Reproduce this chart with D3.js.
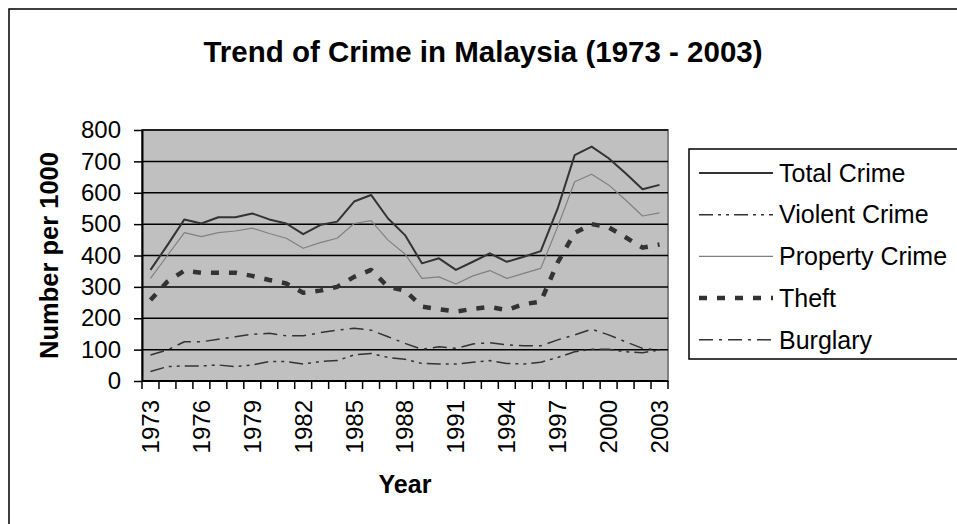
<!DOCTYPE html>
<html>
<head>
<meta charset="utf-8">
<script src="https://cdn.jsdelivr.net/npm/d3@7"></script>
<style>
  body { margin: 0; background: #fff; }
  svg { display: block; font-family: "Liberation Sans", Arial, sans-serif; }
</style>
</head>
<body>
<svg width="957" height="524"></svg>
<script>
// data
var years = d3.range(1973, 2004);
var yearLabels = ["1973","1976","1979","1982","1985","1988","1991","1994","1997","2000","2003"];
var yTicks = [0, 100, 200, 300, 400, 500, 600, 700, 800];

var totalCrime = [354, 433, 515, 502, 522, 522, 534, 515, 502, 468, 497, 508, 572, 593, 518, 465,
                  375, 391, 354, 380, 407, 380, 396, 414, 550, 720, 747, 710, 662, 611, 625];
var violentCrime = [30, 46, 48, 48, 51, 46, 51, 62, 62, 54, 62, 65, 83, 88, 75, 69,
                    56, 54, 54, 60, 65, 56, 54, 60, 75, 93, 101, 101, 93, 90, 99];
var propertyCrime = [327, 400, 473, 460, 473, 478, 487, 470, 455, 423, 441, 455, 502, 511, 449, 405,
                     327, 332, 309, 335, 352, 327, 343, 359, 492, 635, 659, 625, 577, 526, 536];
var theft = [258, 317, 352, 345, 345, 345, 335, 322, 311, 281, 288, 300, 332, 354, 300, 288,
             237, 229, 221, 230, 236, 226, 245, 253, 378, 472, 500, 490, 458, 425, 435];
var burglary = [83, 99, 125, 125, 133, 141, 149, 152, 144, 144, 154, 162, 168, 162, 141, 120,
                101, 109, 104, 118, 122, 115, 112, 112, 131, 147, 165, 147, 125, 104, 99];

var seriesNames = ["Total Crime", "Violent Crime", "Property Crime", "Theft", "Burglary"];
var seriesValues = [totalCrime, violentCrime, propertyCrime, theft, burglary];
var seriesStyle = [
  {stroke: "#333", width: 2, dash: null},
  {stroke: "#333", width: 1.5, dash: "14,5,3,5,3,5"},
  {stroke: "#808080", width: 1.2, dash: null},
  {stroke: "#333", width: 4.5, dash: "8,10"},
  {stroke: "#333", width: 1.5, dash: "14,6,3,6"}
];

var svg = d3.select("svg");

var plot = {left: 142, right: 668, top: 130, bottom: 381};

var x = d3.scaleBand()
    .domain(years)
    .range([plot.left, plot.right])
    .padding(0);

var y = d3.scaleLinear()
    .domain([0, 800])
    .range([plot.bottom, plot.top]);

// chart area border
svg.append("rect")
    .attr("x", 9).attr("y", 9)
    .attr("width", 1100).attr("height", 700)
    .attr("fill", "none")
    .attr("stroke", "#000")
    .attr("stroke-width", 1.5);

// title
svg.append("text")
    .attr("x", 483)
    .attr("y", 62)
    .attr("text-anchor", "middle")
    .attr("font-size", 29.5)
    .attr("font-weight", "bold")
    .text("Trend of Crime in Malaysia (1973 - 2003)");

// plot background
svg.append("rect")
    .attr("x", plot.left).attr("y", plot.top)
    .attr("width", plot.right - plot.left)
    .attr("height", plot.bottom - plot.top)
    .attr("fill", "#c0c0c0")
    .attr("stroke", "#808080")
    .attr("stroke-width", 2);

// gridlines
svg.append("g")
    .selectAll("line")
    .data(yTicks.filter(function(d) { return d > 0; }))
    .enter().append("line")
    .attr("x1", plot.left).attr("x2", plot.right)
    .attr("y1", function(d) { return y(d); })
    .attr("y2", function(d) { return y(d); })
    .attr("stroke", "#000")
    .attr("stroke-width", 1.5);

// y axis
var yAxis = svg.append("g")
    .attr("transform", "translate(" + plot.left + ",0)")
    .call(d3.axisLeft(y).tickValues(yTicks).tickSize(8).tickPadding(13).tickSizeOuter(0));
yAxis.select(".domain").attr("stroke", "#000").attr("stroke-width", 2);
yAxis.selectAll(".tick line").attr("stroke", "#000").attr("stroke-width", 1.5);
yAxis.selectAll("text")
    .attr("font-size", 24)
    .attr("fill", "#000")
    .attr("font-family", "Liberation Sans, Arial, sans-serif");

// x axis: ticks at category boundaries
var xAxisG = svg.append("g");
xAxisG.append("line")
    .attr("x1", plot.left).attr("x2", plot.right)
    .attr("y1", plot.bottom).attr("y2", plot.bottom)
    .attr("stroke", "#000").attr("stroke-width", 2);
var bounds = years.map(function(d) { return x(d); }).concat([x(years[years.length - 1]) + x.bandwidth()]);
xAxisG.selectAll("line.tk")
    .data(bounds)
    .enter().append("line")
    .attr("class", "tk")
    .attr("x1", function(d) { return d; }).attr("x2", function(d) { return d; })
    .attr("y1", plot.bottom).attr("y2", plot.bottom + 8)
    .attr("stroke", "#000").attr("stroke-width", 1.5);
xAxisG.selectAll("text")
    .data(yearLabels)
    .enter().append("text")
    .attr("transform", function(d) {
        return "translate(" + (x(+d) + x.bandwidth() / 2) + "," + (plot.bottom + 19) + ") rotate(-90)";
    })
    .attr("text-anchor", "end")
    .attr("dy", "0.35em")
    .attr("font-size", 24)
    .text(function(d) { return d; });

// axis titles
svg.append("text")
    .attr("x", (plot.left + plot.right) / 2)
    .attr("y", 493)
    .attr("text-anchor", "middle")
    .attr("font-size", 25)
    .attr("font-weight", "bold")
    .text("Year");

svg.append("text")
    .attr("transform", "translate(58," + ((plot.top + plot.bottom) / 2) + ") rotate(-90)")
    .attr("text-anchor", "middle")
    .attr("font-size", 25.5)
    .attr("font-weight", "bold")
    .text("Number per 1000");

// lines
var line = d3.line()
    .x(function(d, i) { return x(years[i]) + x.bandwidth() / 2; })
    .y(function(d) { return y(d); });

svg.append("g")
    .selectAll("path")
    .data(seriesValues)
    .enter().append("path")
    .attr("d", line)
    .attr("fill", "none")
    .attr("stroke", function(d, i) { return seriesStyle[i].stroke; })
    .attr("stroke-width", function(d, i) { return seriesStyle[i].width; })
    .attr("stroke-dasharray", function(d, i) { return seriesStyle[i].dash; })
    .attr("stroke-linejoin", "round");

// legend
var lg = svg.append("g");
lg.append("rect")
    .attr("x", 689).attr("y", 149)
    .attr("width", 400).attr("height", 210)
    .attr("fill", "#fff")
    .attr("stroke", "#000")
    .attr("stroke-width", 1.5);

var items = lg.selectAll("g.item")
    .data(seriesNames)
    .enter().append("g")
    .attr("class", "item")
    .attr("transform", function(d, i) { return "translate(0," + (173 + i * 41.7) + ")"; });
items.append("line")
    .attr("x1", 699).attr("x2", 773)
    .attr("y1", 0).attr("y2", 0)
    .attr("stroke", function(d, i) { return seriesStyle[i].stroke; })
    .attr("stroke-width", function(d, i) { return seriesStyle[i].width; })
    .attr("stroke-dasharray", function(d, i) { return seriesStyle[i].dash; });
items.append("text")
    .attr("x", 779)
    .attr("dy", "0.35em")
    .attr("font-size", 25)
    .text(function(d) { return d; });
</script>
</body>
</html>
